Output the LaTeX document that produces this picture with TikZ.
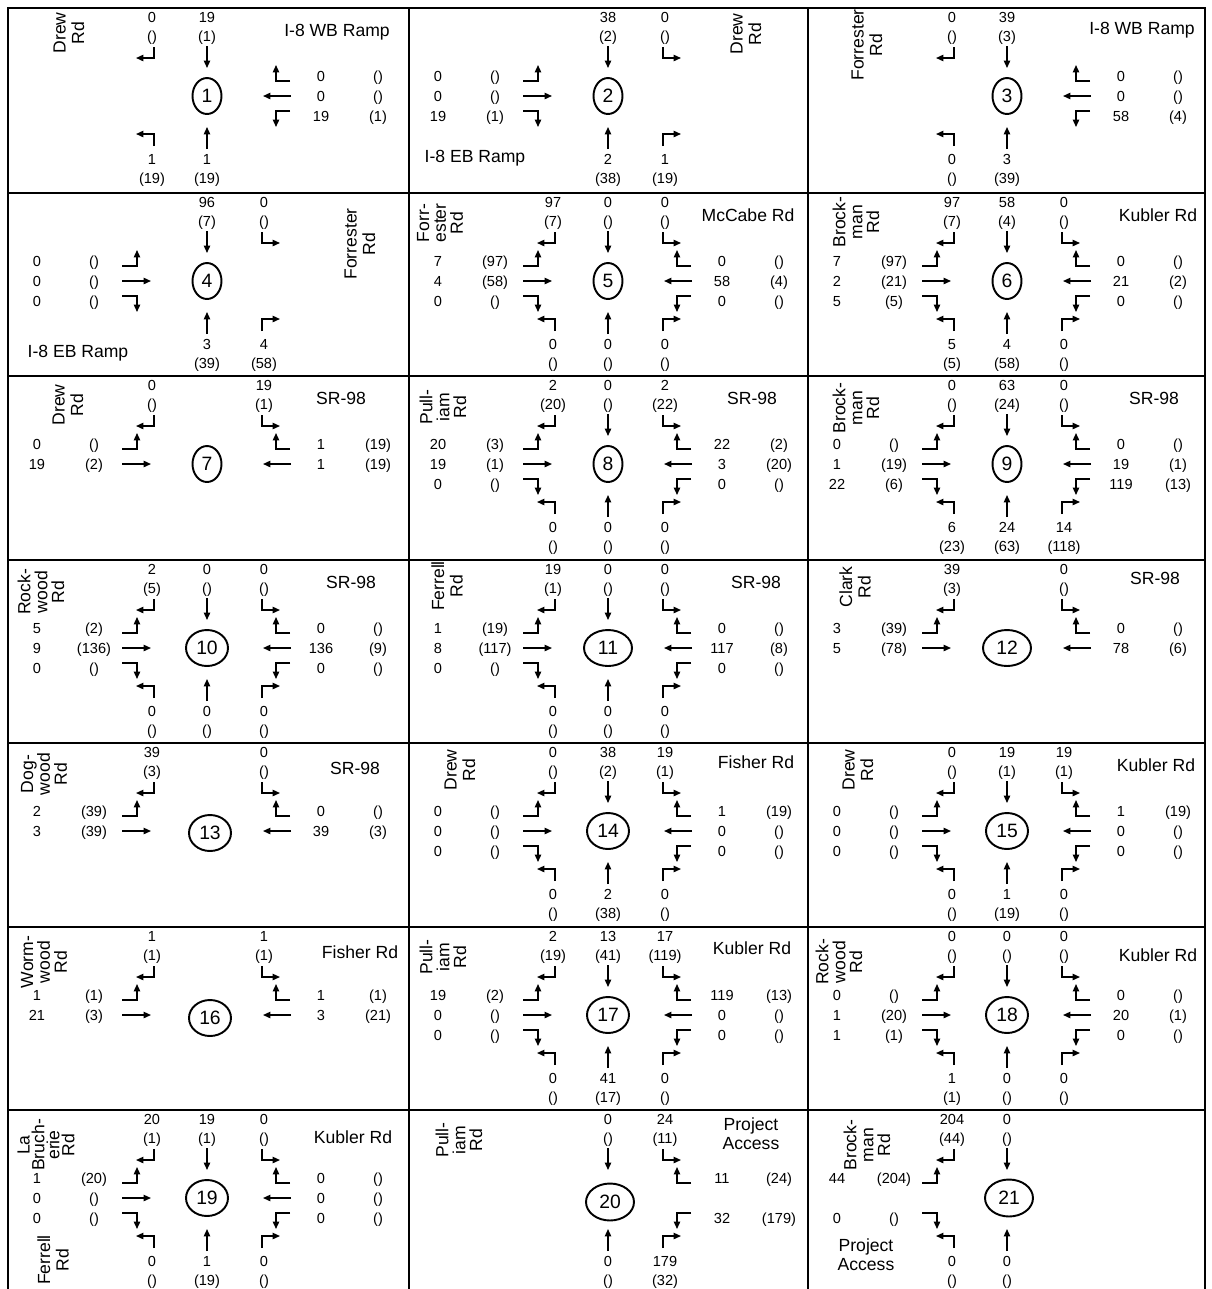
\documentclass[tikz,border=0pt]{standalone}
\usepackage{fontspec}
\setmainfont{Liberation Sans}
\usetikzlibrary{arrows.meta,shapes.geometric}

\tikzset{
  mv/.style={line width=0.85pt,-{Triangle[length=4.2pt,width=3.6pt]}},
  vol/.style={inner sep=0pt,text height=5.9pt,text depth=0pt,font=\fontsize{8.3}{8.3}\selectfont},
  road/.style={inner sep=0pt,align=center,font=\fontsize{10}{10.5}\selectfont},
  roadt/.style={road,font=\fontsize{10}{9.6}\selectfont},
  roadq/.style={road,font=\fontsize{10}{8.5}\selectfont},
  roadp/.style={road,font=\fontsize{10}{11}\selectfont},
  ix/.style={ellipse,draw,line width=1.1pt,inner sep=0pt,minimum width=0.58cm,
    minimum height=0.72cm,font=\fontsize{11}{11}\selectfont},
  ixw/.style={ix,minimum width=0.84cm},
  ixb/.style={ix,minimum width=0.96cm},
  panelrule/.style={line width=1.2pt}
}

% movements: #1 = AM volume, #2 = PM volume; \pn = panel prefix
\newcommand{\sbR}[2]{%
  \node[vol] (\pn-sbR1) at (144,9) {#1};
  \node[vol] (\pn-sbR2) at (144,28) {#2};
  \draw[mv] (146,39) |- (128,50);}
\newcommand{\sbT}[2]{%
  \node[vol] (\pn-sbT1) at (199,9) {#1};
  \node[vol] (\pn-sbT2) at (199,28) {#2};
  \draw[mv] (199,38) -- (199,60);}
\newcommand{\sbL}[2]{%
  \node[vol] (\pn-sbL1) at (256,9) {#1};
  \node[vol] (\pn-sbL2) at (256,28) {#2};
  \draw[mv] (254,39) |- (272,50);}
\newcommand{\nbL}[2]{%
  \node[vol] (\pn-nbL1) at (144,151) {#1};
  \node[vol] (\pn-nbL2) at (144,170) {#2};
  \draw[mv] (146,138) |- (128,126);}
\newcommand{\nbT}[2]{%
  \node[vol] (\pn-nbT1) at (199,151) {#1};
  \node[vol] (\pn-nbT2) at (199,170) {#2};
  \draw[mv] (199,141) -- (199,119);}
\newcommand{\nbR}[2]{%
  \node[vol] (\pn-nbR1) at (256,151) {#1};
  \node[vol] (\pn-nbR2) at (256,170) {#2};
  \draw[mv] (254,138) |- (272,126);}
\newcommand{\ebL}[2]{%
  \node[vol] (\pn-ebL1) at (29,68) {#1};
  \node[vol] (\pn-ebL2) at (86,68) {#2};
  \draw[mv] (114,73) -| (129,57);}
\newcommand{\ebT}[2]{%
  \node[vol] (\pn-ebT1) at (29,88) {#1};
  \node[vol] (\pn-ebT2) at (86,88) {#2};
  \draw[mv] (114,88) -- (143,88);}
\newcommand{\ebR}[2]{%
  \node[vol] (\pn-ebR1) at (29,108) {#1};
  \node[vol] (\pn-ebR2) at (86,108) {#2};
  \draw[mv] (114,103) -| (129,119);}
\newcommand{\wbR}[2]{%
  \node[vol] (\pn-wbR1) at (313,68) {#1};
  \node[vol] (\pn-wbR2) at (370,68) {#2};
  \draw[mv] (282,73) -| (268,57);}
\newcommand{\wbT}[2]{%
  \node[vol] (\pn-wbT1) at (313,88) {#1};
  \node[vol] (\pn-wbT2) at (370,88) {#2};
  \draw[mv] (283,88) -- (255,88);}
\newcommand{\wbL}[2]{%
  \node[vol] (\pn-wbL1) at (313,108) {#1};
  \node[vol] (\pn-wbL2) at (370,108) {#2};
  \draw[mv] (282,103) -| (268,119);}

\begin{document}
\begin{tikzpicture}[x=0.02cm,y=-0.02cm]
\useasboundingbox (0,0) rectangle (1212,1289);
% frame
\draw[panelrule] (8,1289) -- (8,8) -- (1205,8) -- (1205,1289);
\draw[panelrule] (409,8) -- (409,1289);
\draw[panelrule] (808,8) -- (808,1289);
\foreach \yy in {193,376,560,743,927,1110}
  \draw[panelrule] (8,\yy) -- (1205,\yy);

% 1
\begin{scope}[shift={(8,8)}]\def\pn{p1}
\node[ix] (\pn) at (199,88) {1};
\sbR{0}{()} \sbT{19}{(1)}
\wbR{0}{()} \wbT{0}{()} \wbL{19}{(1)}
\nbL{1}{(19)} \nbT{1}{(19)}
\node[road,rotate=90] (\pn-ns) at (61,25) {Drew\\Rd};
\node[road] (\pn-ew) at (329,24) {I-8 WB Ramp};
\end{scope}
% 2
\begin{scope}[shift={(409,8)}]\def\pn{p2}
\node[ix] (\pn) at (199,88) {2};
\sbT{38}{(2)} \sbL{0}{()}
\ebL{0}{()} \ebT{0}{()} \ebR{19}{(1)}
\nbT{2}{(38)} \nbR{1}{(19)}
\node[road,rotate=90] (\pn-ns) at (337,26) {Drew\\Rd};
\node[road] (\pn-ew) at (66,150) {I-8 EB Ramp};
\end{scope}
% 3
\begin{scope}[shift={(808,8)}]\def\pn{p3}
\node[ix] (\pn) at (199,88) {3};
\sbR{0}{()} \sbT{39}{(3)}
\wbR{0}{()} \wbT{0}{()} \wbL{58}{(4)}
\nbL{0}{()} \nbT{3}{(39)}
\node[road,rotate=90] (\pn-ns) at (59,37) {Forrester\\Rd};
\node[road] (\pn-ew) at (334,22) {I-8 WB Ramp};
\end{scope}
% 4
\begin{scope}[shift={(8,193)}]\def\pn{p4}
\node[ix] (\pn) at (199,88) {4};
\sbT{96}{(7)} \sbL{0}{()}
\ebL{0}{()} \ebT{0}{()} \ebR{0}{()}
\nbT{3}{(39)} \nbR{4}{(58)}
\node[road,rotate=90] (\pn-ns) at (352,51) {Forrester\\Rd};
\node[road] (\pn-ew) at (70,160) {I-8 EB Ramp};
\end{scope}
% 5
\begin{scope}[shift={(409,193)}]\def\pn{p5}
\node[ix] (\pn) at (199,88) {5};
\sbR{97}{(7)} \sbT{0}{()} \sbL{0}{()}
\ebL{7}{(97)} \ebT{4}{(58)} \ebR{0}{()}
\wbR{0}{()} \wbT{58}{(4)} \wbL{0}{()}
\nbL{0}{()} \nbT{0}{()} \nbR{0}{()}
\node[roadt,rotate=90] (\pn-ns) at (31,30) {Forr-\\ester\\Rd};
\node[road] (\pn-ew) at (339,22) {McCabe Rd};
\end{scope}
% 6
\begin{scope}[shift={(808,193)}]\def\pn{p6}
\node[ix] (\pn) at (199,88) {6};
\sbR{97}{(7)} \sbT{58}{(4)} \sbL{0}{()}
\ebL{7}{(97)} \ebT{2}{(21)} \ebR{5}{(5)}
\wbR{0}{()} \wbT{21}{(2)} \wbL{0}{()}
\nbL{5}{(5)} \nbT{4}{(58)} \nbR{0}{()}
\node[roadt,rotate=90] (\pn-ns) at (48,29) {Brock-\\man\\Rd};
\node[road] (\pn-ew) at (350,22) {Kubler Rd};
\end{scope}
% 7
\begin{scope}[shift={(8,376)}]\def\pn{p7}
\node[ix] (\pn) at (199,88) {7};
\sbR{0}{()} \sbL{19}{(1)}
\ebL{0}{()} \ebT{19}{(2)}
\wbR{1}{(19)} \wbT{1}{(19)}
\node[road,rotate=90] (\pn-ns) at (60,29) {Drew\\Rd};
\node[road] (\pn-ew) at (333,22) {SR-98};
\end{scope}
% 8
\begin{scope}[shift={(409,376)}]\def\pn{p8}
\node[ix] (\pn) at (199,88) {8};
\sbR{2}{(20)} \sbT{0}{()} \sbL{2}{(22)}
\ebL{20}{(3)} \ebT{19}{(1)} \ebR{0}{()}
\wbR{22}{(2)} \wbT{3}{(20)} \wbL{0}{()}
\nbL{0}{()} \nbT{0}{()} \nbR{0}{()}
\node[roadt,rotate=90] (\pn-ns) at (34,31) {Pull-\\iam\\Rd};
\node[road] (\pn-ew) at (343,22) {SR-98};
\end{scope}
% 9
\begin{scope}[shift={(808,376)}]\def\pn{p9}
\node[ix] (\pn) at (199,88) {9};
\sbR{0}{()} \sbT{63}{(24)} \sbL{0}{()}
\ebL{0}{()} \ebT{1}{(19)} \ebR{22}{(6)}
\wbR{0}{()} \wbT{19}{(1)} \wbL{119}{(13)}
\nbL{6}{(23)} \nbT{24}{(63)} \nbR{14}{(118)}
\node[roadt,rotate=90] (\pn-ns) at (48,32) {Brock-\\man\\Rd};
\node[road] (\pn-ew) at (346,22) {SR-98};
\end{scope}
% 10
\begin{scope}[shift={(8,560)}]\def\pn{p10}
\node[ixw] (\pn) at (199,88) {10};
\sbR{2}{(5)} \sbT{0}{()} \sbL{0}{()}
\ebL{5}{(2)} \ebT{9}{(136)} \ebR{0}{()}
\wbR{0}{()} \wbT{136}{(9)} \wbL{0}{()}
\nbL{0}{()} \nbT{0}{()} \nbR{0}{()}
\node[roadt,rotate=90] (\pn-ns) at (33,32) {Rock-\\wood\\Rd};
\node[road] (\pn-ew) at (343,22) {SR-98};
\end{scope}
% 11
\begin{scope}[shift={(409,560)}]\def\pn{p11}
\node[ixb] (\pn) at (199,88) {11};
\sbR{19}{(1)} \sbT{0}{()} \sbL{0}{()}
\ebL{1}{(19)} \ebT{8}{(117)} \ebR{0}{()}
\wbR{0}{()} \wbT{117}{(8)} \wbL{0}{()}
\nbL{0}{()} \nbT{0}{()} \nbR{0}{()}
\node[road,rotate=90] (\pn-ns) at (38,26) {Ferrell\\Rd};
\node[road] (\pn-ew) at (347,22) {SR-98};
\end{scope}
% 12
\begin{scope}[shift={(808,560)}]\def\pn{p12}
\node[ixb] (\pn) at (199,88) {12};
\sbR{39}{(3)} \sbL{0}{()}
\ebL{3}{(39)} \ebT{5}{(78)}
\wbR{0}{()} \wbT{78}{(6)}
\node[road,rotate=90] (\pn-ns) at (47,27) {Clark\\Rd};
\node[road] (\pn-ew) at (347,18) {SR-98};
\end{scope}
% 13
\begin{scope}[shift={(8,743)}]\def\pn{p13}
\node[ixw] (\pn) at (202,90) {13};
\sbR{39}{(3)} \sbL{0}{()}
\ebL{2}{(39)} \ebT{3}{(39)}
\wbR{0}{()} \wbT{39}{(3)}
\node[roadt,rotate=90] (\pn-ns) at (36,31) {Dog-\\wood\\Rd};
\node[road] (\pn-ew) at (347,25) {SR-98};
\end{scope}
% 14
\begin{scope}[shift={(409,743)}]\def\pn{p14}
\node[ixw] (\pn) at (199,88) {14};
\sbR{0}{()} \sbT{38}{(2)} \sbL{19}{(1)}
\ebL{0}{()} \ebT{0}{()} \ebR{0}{()}
\wbR{1}{(19)} \wbT{0}{()} \wbL{0}{()}
\nbL{0}{()} \nbT{2}{(38)} \nbR{0}{()}
\node[road,rotate=90] (\pn-ns) at (51,27) {Drew\\Rd};
\node[road] (\pn-ew) at (347,19) {Fisher Rd};
\end{scope}
% 15
\begin{scope}[shift={(808,743)}]\def\pn{p15}
\node[ixw] (\pn) at (199,88) {15};
\sbR{0}{()} \sbT{19}{(1)} \sbL{19}{(1)}
\ebL{0}{()} \ebT{0}{()} \ebR{0}{()}
\wbR{1}{(19)} \wbT{0}{()} \wbL{0}{()}
\nbL{0}{()} \nbT{1}{(19)} \nbR{0}{()}
\node[road,rotate=90] (\pn-ns) at (50,27) {Drew\\Rd};
\node[road] (\pn-ew) at (348,22) {Kubler Rd};
\end{scope}
% 16
\begin{scope}[shift={(8,927)}]\def\pn{p16}
\node[ixw] (\pn) at (202,91) {16};
\sbR{1}{(1)} \sbL{1}{(1)}
\ebL{1}{(1)} \ebT{21}{(3)}
\wbR{1}{(1)} \wbT{3}{(21)}
\node[roadt,rotate=90] (\pn-ns) at (36,35) {Worm-\\wood\\Rd};
\node[road] (\pn-ew) at (352,25) {Fisher Rd};
\end{scope}
% 17
\begin{scope}[shift={(409,927)}]\def\pn{p17}
\node[ixw] (\pn) at (199,88) {17};
\sbR{2}{(19)} \sbT{13}{(41)} \sbL{17}{(119)}
\ebL{19}{(2)} \ebT{0}{()} \ebR{0}{()}
\wbR{119}{(13)} \wbT{0}{()} \wbL{0}{()}
\nbL{0}{()} \nbT{41}{(17)} \nbR{0}{()}
\node[roadt,rotate=90] (\pn-ns) at (34,30) {Pull-\\iam\\Rd};
\node[road] (\pn-ew) at (343,21) {Kubler Rd};
\end{scope}
% 18
\begin{scope}[shift={(808,927)}]\def\pn{p18}
\node[ixw] (\pn) at (199,88) {18};
\sbR{0}{()} \sbT{0}{()} \sbL{0}{()}
\ebL{0}{()} \ebT{1}{(20)} \ebR{1}{(1)}
\wbR{0}{()} \wbT{20}{(1)} \wbL{0}{()}
\nbL{1}{(1)} \nbT{0}{()} \nbR{0}{()}
\node[roadt,rotate=90] (\pn-ns) at (31,35) {Rock-\\wood\\Rd};
\node[road] (\pn-ew) at (350,28) {Kubler Rd};
\end{scope}
% 19
\begin{scope}[shift={(8,1110)}]\def\pn{p19}
\node[ixw] (\pn) at (199,88) {19};
\sbR{20}{(1)} \sbT{19}{(1)} \sbL{0}{()}
\ebL{1}{(20)} \ebT{0}{()} \ebR{0}{()}
\wbR{0}{()} \wbT{0}{()} \wbL{0}{()}
\nbL{0}{()} \nbT{1}{(19)} \nbR{0}{()}
\node[roadq,rotate=90] (\pn-ns) at (38,35) {La\\Bruch-\\erie\\Rd};
\node[road,rotate=90] (\pn-ns2) at (45,150) {Ferrell\\Rd};
\node[road] (\pn-ew) at (345,27) {Kubler Rd};
\end{scope}
% 20
\begin{scope}[shift={(409,1110)}]\def\pn{p20}
\node[ixb,minimum height=0.74cm] (\pn) at (201,92) {20};
\sbT{0}{()} \sbL{24}{(11)}
\wbR{11}{(24)} \wbL{32}{(179)}
\nbT{0}{()} \nbR{179}{(32)}
\node[roadt,rotate=90] (\pn-ns) at (50,30) {Pull-\\iam\\Rd};
\node[roadp] (\pn-ew) at (342,24) {Project\\Access};
\end{scope}
% 21
\begin{scope}[shift={(808,1110)}]\def\pn{p21}
\node[ixb,minimum height=0.74cm] (\pn) at (201,88) {21};
\sbR{204}{(44)} \sbT{0}{()}
\ebL{44}{(204)} \ebR{0}{()}
\nbL{0}{()} \nbT{0}{()}
\node[roadt,rotate=90] (\pn-ns) at (59,35) {Brock-\\man\\Rd};
\node[roadp] (\pn-ew) at (58,145) {Project\\Access};
\end{scope}
\end{tikzpicture}
\end{document}
